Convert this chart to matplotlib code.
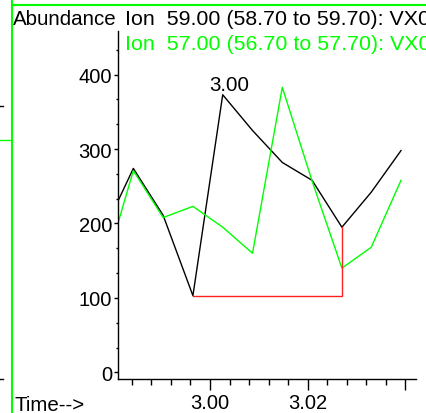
import matplotlib
matplotlib.use("Agg")
import matplotlib.pyplot as plt
from matplotlib.lines import Line2D
from matplotlib.ticker import FixedLocator, FixedFormatter
import numpy as np

plt.rcParams['font.family'] = ['Liberation Sans', 'DejaVu Sans']

# scan times (min) and abundances
times = [2.9782, 2.9843, 2.9904, 2.9965, 3.0026, 3.0087, 3.0148, 3.0209, 3.0270, 3.0330, 3.0391]
ion59 = [189, 274, 211, 103, 373, 325, 282, 258, 195, 242, 298]
ion57 = [134, 271, 208, 223, 195, 160, 383, 257, 140, 168, 258]

# integration baseline drawn under the 59 peak
base_t = [2.9965, 3.0270, 3.0270]
base_v = [103, 103, 195]

peak_t = 3.0026
peak_v = 373
peak_label = "3.00"

label59 = "Ion  59.00 (58.70 to 59.70): VX0"
label57 = "Ion  57.00 (56.70 to 57.70): VX0"

W, H = 426, 414
fig = plt.figure(figsize=(W / 100, H / 100), dpi=100)
ax = fig.add_axes([117.5 / W, 1 - 380 / H, (416 - 117.5) / W, (380 - 32) / H])

ax.plot(times, ion59, color='black', lw=1.0)
ax.plot(times, ion57, color='#00ff00', lw=1.0)
ax.plot(base_t, base_v, color='#ff2020', lw=1.0)

ax.annotate(peak_label, (peak_t, peak_v), xytext=(6, 5), textcoords='offset pixels',
            ha='center', va='baseline', fontsize=14.8)

ax.set_xlim(2.98106, 3.04217)
ax.set_ylim(-9, 458.7)

for s in ['top', 'right']:
    ax.spines[s].set_visible(False)
for s in ['left', 'bottom']:
    ax.spines[s].set_linewidth(1.0)

ax.yaxis.set_major_locator(FixedLocator([0, 100, 200, 300, 400]))
ax.yaxis.set_minor_locator(FixedLocator([100 / 3 * i for i in range(1, 14) if i % 3 != 0]))
ax.xaxis.set_major_locator(FixedLocator([3.00, 3.02, 3.04]))
ax.xaxis.set_major_formatter(FixedFormatter(["3.00", "3.02", ""]))
ax.xaxis.set_minor_locator(FixedLocator([round(2.984 + 0.004 * i, 3) for i in range(15)]))

ax.tick_params(axis='y', which='major', length=3, width=1.0, pad=1, labelsize=14.5)
ax.tick_params(axis='y', which='minor', length=1.8, width=1.0)
ax.tick_params(axis='x', which='major', length=8, width=1.0, pad=2, labelsize=14.5)
ax.tick_params(axis='x', which='minor', length=4.3, width=1.0)

# header / footer texts
fig.text(13 / W, 1 - 25 / H, "Abundance", fontsize=14.8, va='baseline', ha='left')
fig.text(125 / W, 1 - 25 / H, label59, fontsize=15.4, va='baseline', ha='left', color='black')
fig.text(125 / W, 1 - 50 / H, label57, fontsize=15.4, va='baseline', ha='left', color='#00ff00')
fig.text(14 / W, 1 - 411 / H, "Time-->", fontsize=14.8, va='baseline', ha='left')

# window frame bits
fig.add_artist(Line2D([11.5 / W, 11.5 / W], [0, 1], color='#00ff00', lw=1.5, transform=fig.transFigure))
fig.add_artist(Line2D([11.5 / W, 1], [1 - 5.5 / H, 1 - 5.5 / H], color='#00ff00', lw=1.5, transform=fig.transFigure))
fig.add_artist(Line2D([0, 11.5 / W], [1 - 141 / H, 1 - 141 / H], color='#00ff00', lw=1.0, transform=fig.transFigure))
fig.add_artist(Line2D([0, 2.5 / W], [1 - 107 / H, 1 - 107 / H], color='black', lw=1.0, transform=fig.transFigure))
fig.add_artist(Line2D([0, 2.5 / W], [1 - 380 / H, 1 - 380 / H], color='black', lw=1.0, transform=fig.transFigure))

fig.savefig("out.png", dpi=100)
